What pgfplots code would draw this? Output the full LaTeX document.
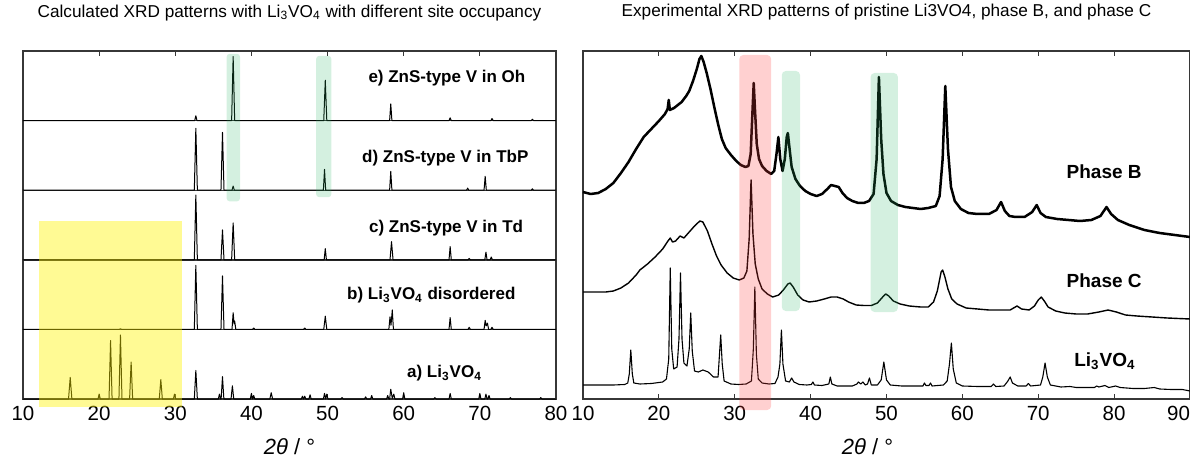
\documentclass[border=0pt]{standalone}
\usepackage{pgfplots}
\pgfplotsset{compat=1.18}
\usepackage{pgfplotstable}
\usepackage{fontspec}
\setmainfont{Liberation Sans}

% Calculated patterns: columns 2theta, relative intensity (0 = baseline of its strip)
\pgfplotstableread{
x h
10 0
15.98 0
16.2 0.31
16.42 0
19.85 0
20.0 0.07
20.15 0
21.3 0
21.5 0.84
21.7 0
22.6 0
22.8 0.92
23.0 0
24.0 0
24.2 0.53
24.4 0
27.9 0
28.1 0.28
28.3 0
29.75 0
29.9 0.07
30.05 0
32.5 0
32.7 0.41
32.9 0
35.65 0
35.8 0.07
35.95 0
36.02 0
36.2 0.32
36.38 0
37.32 0
37.5 0.19
37.68 0
39.85 0
40.0 0.08
40.15 0
40.3 0.05
40.45 0
42.42 0
42.6 0.09
42.78 0
46.55 0
46.7 0.04
46.85 0
47.0 0.04
47.15 0
47.55 0
47.7 0.06
47.85 0
49.45 0
49.6 0.08
49.75 0
49.9 0.07
50.05 0
51.75 0
51.9 0.02
52.05 0
54.85 0
55.0 0.03
55.15 0
55.65 0
55.8 0.05
55.95 0
57.75 0
57.9 0.05
58.05 0
58.15 0
58.3 0.14
58.5 0.01
58.7 0.07
58.85 0
59.85 0
60.0 0.09
60.15 0
63.95 0
64.1 0.02
64.25 0
65.95 0
66.1 0.08
66.25 0
69.85 0
70.0 0.08
70.15 0
70.65 0
70.8 0.07
70.95 0
71.05 0
71.2 0.05
71.35 0
73.85 0
74.0 0.02
74.15 0
77.85 0
78.0 0.02
78.15 0
80 0
}\calcA

\pgfplotstableread{
x h
10 0
22.65 0
22.8 0.01
22.95 0
32.5 0
32.7 0.92
32.9 0
36.0 0
36.2 0.77
36.4 0
37.45 0
37.6 0.24
37.72 0.08
37.8 0.12
37.95 0
40.15 0
40.3 0.02
40.45 0
46.85 0
47.0 0.02
47.15 0
49.5 0
49.7 0.19
49.9 0
58.05 0
58.2 0.18
58.33 0.06
58.5 0.28
58.65 0
65.95 0
66.1 0.17
66.25 0
68.45 0
68.6 0.03
68.75 0
70.55 0
70.7 0.13
70.83 0.05
71.0 0.09
71.15 0
71.45 0
71.6 0.03
71.75 0
80 0
}\calcB

\pgfplotstableread{
x h
10 0
32.5 0
32.7 0.93
32.9 0
36.0 0
36.2 0.43
36.4 0
37.4 0
37.6 0.53
37.8 0
49.55 0
49.7 0.16
49.85 0
58.2 0
58.4 0.26
58.6 0
65.95 0
66.1 0.19
66.25 0
68.45 0
68.6 0.02
68.75 0
70.65 0
70.8 0.11
70.95 0
71.35 0
71.5 0.04
71.65 0
80 0
}\calcC

\pgfplotstableread{
x h
10 0
32.5 0
32.7 0.89
32.9 0
36.0 0
36.2 0.83
36.4 0
37.45 0
37.6 0.06
37.75 0
49.45 0
49.6 0.30
49.75 0
58.15 0
58.3 0.27
58.45 0
68.25 0
68.4 0.03
68.55 0
70.55 0
70.7 0.20
70.85 0
76.75 0
76.9 0.02
77.05 0
80 0
}\calcD

\pgfplotstableread{
x h
10 0
32.55 0
32.7 0.07
32.85 0
37.4 0
37.6 0.92
37.8 0
49.5 0
49.7 0.58
49.9 0
58.15 0
58.3 0.24
58.45 0
65.95 0
66.1 0.04
66.25 0
71.45 0
71.6 0.03
71.75 0
76.75 0
76.9 0.02
77.05 0
80 0
}\calcE

\definecolor{framegray}{RGB}{55,55,55}
\definecolor{bandgreen}{RGB}{40,180,100}
\definecolor{bandred}{RGB}{255,60,60}

\pgfplotsset{
  xrdframe/.style={
    scale only axis, height=174pt,
    clip=false,
    tick align=inside, xtick pos=both, ytick=\empty,
    major tick length=2.5pt,
    every tick/.style={framegray, line width=0.6pt},
    axis line style={framegray, line width=0.7pt},
    /pgf/number format/assume math mode=true,
    xticklabel style={font=\fontsize{10.25pt}{12pt}\selectfont},
    title style={at={(axis description cs:0.5,1)}, anchor=base, yshift=11pt,
      font=\fontsize{8.6pt}{10pt}\selectfont},
    xlabel style={at={(axis description cs:0.5,0)}, anchor=base, yshift=-27.5pt,
      font=\fontsize{11pt}{13pt}\selectfont},
    xlabel={\itshape 2θ\/\upshape\ / °},
  },
  stick/.style={black, line width=0.5pt, line join=round},
}

\begin{document}
\begin{tikzpicture}[x=1pt,y=1pt]

% ---------- calculated patterns ----------
\begin{axis}[xrdframe, at={(0pt,0pt)}, anchor=south west,
  width=266.5pt, xmin=10, xmax=80, ymin=0, ymax=5,
  xtick={10,20,...,80},
  title={Calculated XRD patterns with Li\textsubscript{3}VO\textsubscript{4} with different site occupancy}]

% strip dividers (each pattern sits on the divider below it)
\foreach \k in {1,2,3,4}{
  \edef\tmp{\noexpand\draw[framegray, line width=0.7pt] (axis cs:10,\k) -- (axis cs:80,\k);}\tmp
}

\addplot[stick] table[x=x, y expr=\thisrow{h}] {\calcA};
\addplot[stick] table[x=x, y expr=\thisrow{h}+1] {\calcB};
\addplot[stick] table[x=x, y expr=\thisrow{h}+2] {\calcC};
\addplot[stick] table[x=x, y expr=\thisrow{h}+3] {\calcD};
\addplot[stick] table[x=x, y expr=\thisrow{h}+4] {\calcE};

\begin{scope}[font=\fontsize{8.5pt}{10pt}\selectfont\bfseries]
\node[anchor=mid east] at (axis cs:76.9,4.62) {e) ZnS-type V in Oh};
\node[anchor=mid east] at (axis cs:77.3,3.47) {d) ZnS-type V in TbP};
\node[anchor=mid east] at (axis cs:76.6,2.47) {c) ZnS-type V in Td};
\node[anchor=mid east] at (axis cs:75.6,1.50) {b) Li\textsubscript{3}VO\textsubscript{4} disordered};
\node[anchor=mid east] at (axis cs:71.2,0.38) {a) Li\textsubscript{3}VO\textsubscript{4}};
\end{scope}

% highlighted regions
\fill[yellow, opacity=0.42] (axis cs:12.1,-0.115) rectangle (axis cs:30.9,2.56);
\fill[bandgreen, opacity=0.2, rounded corners=1.5pt] (axis cs:36.75,2.84) rectangle (axis cs:38.5,4.96);
\fill[bandgreen, opacity=0.2, rounded corners=1.5pt] (axis cs:48.5,2.90) rectangle (axis cs:50.5,4.93);
\end{axis}

% ---------- experimental patterns ----------
\begin{axis}[xrdframe, at={(280pt,0pt)}, anchor=south west,
  width=303.5pt, xmin=10, xmax=90, ymin=0, ymax=348,
  xtick={10,20,...,90},
  xticklabels={10,20,30,40,50,60,70,80,\llap{90}},
  xlabel style={xshift=-9.5pt},
  title={Experimental XRD patterns of pristine Li3VO4, phase B, and phase C}]

% phase B
\addplot[black, line width=1.25pt, line join=round] coordinates {
(10,207) (11,205) (12,206) (13,210) (14,216) (15,226) (16,237) (17,250) (17.5,256)
(18,262) (19,270) (20,278) (20.8,285) (21.15,290) (21.3,299) (21.45,289) (22,291)
(23,297) (23.6,303) (24,308) (24.5,318) (25,330) (25.35,340) (25.6,343) (25.9,337)
(26.3,326) (26.8,310) (27.3,292) (27.8,275) (28.3,260) (28.8,251) (29.5,244)
(30.2,238) (30.8,234) (31.4,232) (31.8,233) (32.1,245) (32.35,290) (32.5,316)
(32.65,292) (32.9,255) (33.2,240) (33.6,233) (34.2,228) (34.8,225) (35.2,228)
(35.5,245) (35.75,262) (36.0,240) (36.3,228) (36.6,240) (36.85,262) (37.0,266)
(37.2,252) (37.5,232) (38,220) (38.6,213) (39.3,208) (40,205) (40.8,203)
(41.5,205) (42.2,210) (42.7,214) (43.2,213) (43.7,212) (44.2,206) (44.8,201)
(45.5,198) (46.3,196) (47,196) (47.7,198) (48.3,205) (48.7,240) (49.0,322)
(49.3,260) (49.6,225) (50.0,206) (50.6,198) (51.5,194) (52.5,192) (53.5,191)
(54.5,190) (55.5,191) (56.5,193) (57.0,203) (57.4,240) (57.75,313) (58.1,250)
(58.5,212) (59.0,198) (59.8,190) (60.8,186) (62,185) (63.5,185) (64.5,189)
(65.1,197) (65.6,188) (66.2,183) (67,182) (68.2,182) (69.2,187) (69.8,194)
(70.3,186) (71,182) (72.5,180) (74,179) (75.5,178) (77,179) (78.2,183) (79,192)
(79.6,185) (80.5,179) (82,174) (84,169) (86,166) (88,164) (90,162)
};

% phase C
\addplot[black, line width=0.7pt, line join=round] coordinates {
(10,107) (13,107) (14,108) (15,111) (16,116) (17,124) (17.5,129) (18.5,135)
(19.5,142) (20.5,150) (21.2,158) (21.5,161) (21.8,157) (22.2,158) (22.8,163)
(23.3,161) (24,167) (24.7,173) (25.4,178) (25.8,177) (26.4,168) (27,155)
(27.6,143) (28.2,134) (29,126) (29.8,121) (30.6,119) (31.2,121) (31.6,128)
(31.9,160) (32.15,219) (32.4,165) (32.7,135) (33.1,120) (33.6,110) (34.3,105)
(35,102) (35.8,104) (36.4,109) (37.0,115) (37.3,116) (37.7,112) (38.3,104)
(39,99) (39.8,97) (40.8,98) (41.8,100) (42.7,102) (43.5,102) (44.3,100) (45,97)
(46,94) (47,93.5) (48,93.5) (48.8,96) (49.5,102) (49.9,105) (50.3,103)
(50.9,98) (51.8,95) (53,93) (54.5,92) (55.5,92) (56.2,97) (56.7,108) (57.2,127)
(57.4,129) (57.7,122) (58.1,110) (58.6,100) (59.3,95) (60.5,91) (62,90)
(63.5,89) (65,89) (66.3,89) (67.2,93) (67.8,90) (68.8,89) (69.5,93) (70.0,99)
(70.4,102) (70.8,98) (71.3,92) (72.3,88) (73.5,86) (75,85) (76.5,85) (78,87)
(79.2,89) (80.3,87) (81.5,84) (83,83) (85,82) (87,81) (90,80)
};

% pristine Li3VO4
\addplot[black, line width=0.55pt, line join=round] coordinates {
(10,14) (12,14) (14,14) (15.5,14.5) (15.9,16) (16.1,25) (16.3,49) (16.5,25)
(16.7,16) (17.5,15) (19,15.5) (20.5,17) (21.0,20) (21.3,40) (21.5,131) (21.7,50)
(21.95,30) (22.4,32) (22.65,60) (22.85,126) (23.05,60) (23.3,36) (23.7,33)
(24.0,50) (24.2,86) (24.4,48) (24.7,28) (25.2,27) (25.8,29) (26.5,27) (27.2,22)
(27.8,22) (27.95,40) (28.15,64) (28.35,35) (28.6,18) (29.5,15) (30.5,14.5)
(31.5,15) (32.2,18) (32.45,50) (32.65,112) (32.85,45) (33.1,20) (33.6,16)
(34.5,15) (35.3,15.5) (35.7,22) (35.95,35) (36.15,69) (36.35,35) (36.7,18)
(37.2,17) (37.5,21) (37.8,17) (38.5,14.5) (39.5,14) (40.1,14.5) (40.3,17)
(40.5,14) (41.5,13.5) (42.4,15) (42.6,22) (42.8,15) (43.5,13) (45.5,13)
(46.1,15) (46.3,17) (46.6,15) (46.9,17) (47.2,14) (47.5,15) (47.75,21) (48.0,14)
(48.8,14) (49.3,19) (49.65,37) (50.0,19) (50.5,14) (52,13) (54.8,13) (55.0,16)
(55.2,13.5) (55.6,13.5) (55.8,16) (56.0,13) (57.5,14) (58.0,18) (58.3,35)
(58.55,56) (58.8,30) (59.2,16) (60.0,13) (62,12.5) (63.8,12.5) (64.1,15)
(64.4,12.5) (65.5,13) (66.0,18) (66.3,22) (66.6,16) (67.3,13) (68.4,13)
(68.7,15.5) (69.0,13) (70.3,14) (70.6,22) (70.9,36) (71.2,22) (71.6,14) (73,12)
(74.2,12.5) (75,11.5) (77.4,11.5) (77.7,13) (78.0,12) (78.8,13.5) (79.3,11.5)
(80.2,13) (80.8,11.5) (82.5,10.5) (84,10.5) (85.3,11.5) (86,10) (87.5,9.5)
(89,9.5) (90,8)
};

\begin{scope}[font=\fontsize{9.5pt}{11pt}\selectfont\bfseries]
\node[anchor=mid west, inner sep=0pt] at (axis cs:73.7,226) {Phase B};
\node[anchor=mid west, inner sep=0pt] at (axis cs:73.7,117) {Phase C};
\node[anchor=mid west, inner sep=0pt] at (axis cs:74.7,38) {Li\textsubscript{3}VO\textsubscript{4}};
\end{scope}

% highlighted regions
\fill[bandred, opacity=0.24, rounded corners=2pt] (axis cs:30.6,-11) rectangle (axis cs:34.8,344);
\fill[bandgreen, opacity=0.2, rounded corners=2pt] (axis cs:36.2,88) rectangle (axis cs:38.6,328);
\fill[bandgreen, opacity=0.2, rounded corners=2pt] (axis cs:47.9,87) rectangle (axis cs:51.5,326);
\end{axis}

\pgfresetboundingbox
\useasboundingbox (-11.5pt,-31pt) rectangle (583.5pt,199.5pt);
\end{tikzpicture}
\end{document}
